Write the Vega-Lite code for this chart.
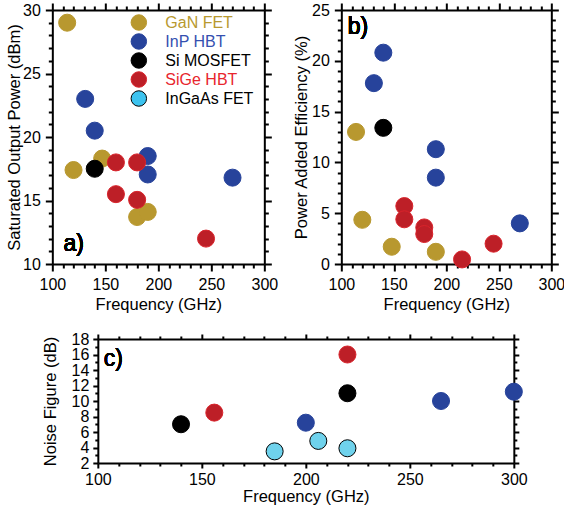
{
  "$schema": "https://vega.github.io/schema/vega-lite/v6.json",
  "padding": {"left": 6, "top": 2, "right": 0, "bottom": 0},
  "background": "white",
  "config": {
    "font": "Liberation Sans",
    "view": {"stroke": null},
    "axis": {
      "grid": false,
      "domainColor": "black",
      "domainWidth": 2,
      "tickColor": "black",
      "tickWidth": 2,
      "tickSize": 7,
      "labelFont": "Liberation Sans",
      "labelFontSize": 16,
      "labelColor": "black",
      "labelPadding": 5,
      "labelFlush": false,
      "labelOverlap": false,
      "labelBound": false,
      "titleFont": "Liberation Sans",
      "titleFontSize": 16.5,
      "titleFontWeight": "normal",
      "titleColor": "black"
    }
  },
  "datasets": {
    "psat": [
      {"tech": "GaN FET", "freq": 114, "value": 29.0},
      {"tech": "GaN FET", "freq": 120, "value": 17.4},
      {"tech": "GaN FET", "freq": 147, "value": 18.3},
      {"tech": "GaN FET", "freq": 180, "value": 13.7},
      {"tech": "GaN FET", "freq": 190, "value": 14.1},
      {"tech": "InP HBT", "freq": 131, "value": 23.0},
      {"tech": "InP HBT", "freq": 140, "value": 20.5},
      {"tech": "InP HBT", "freq": 190, "value": 18.5},
      {"tech": "InP HBT", "freq": 190, "value": 17.05},
      {"tech": "InP HBT", "freq": 270, "value": 16.8},
      {"tech": "Si MOSFET", "freq": 140, "value": 17.5},
      {"tech": "SiGe HBT", "freq": 160, "value": 18.0},
      {"tech": "SiGe HBT", "freq": 180, "value": 18.0},
      {"tech": "SiGe HBT", "freq": 160, "value": 15.5},
      {"tech": "SiGe HBT", "freq": 180, "value": 15.05},
      {"tech": "SiGe HBT", "freq": 245, "value": 12.0}
    ],
    "pae": [
      {"tech": "GaN FET", "freq": 114, "value": 13.0},
      {"tech": "GaN FET", "freq": 120, "value": 4.35},
      {"tech": "GaN FET", "freq": 148, "value": 1.7},
      {"tech": "GaN FET", "freq": 190, "value": 1.2},
      {"tech": "InP HBT", "freq": 140, "value": 20.8},
      {"tech": "InP HBT", "freq": 131, "value": 17.8},
      {"tech": "InP HBT", "freq": 190, "value": 11.3},
      {"tech": "InP HBT", "freq": 190, "value": 8.5},
      {"tech": "InP HBT", "freq": 270, "value": 4.0},
      {"tech": "Si MOSFET", "freq": 140, "value": 13.4},
      {"tech": "SiGe HBT", "freq": 160, "value": 5.7},
      {"tech": "SiGe HBT", "freq": 160, "value": 4.4},
      {"tech": "SiGe HBT", "freq": 179, "value": 3.6},
      {"tech": "SiGe HBT", "freq": 179, "value": 2.95},
      {"tech": "SiGe HBT", "freq": 215, "value": 0.45},
      {"tech": "SiGe HBT", "freq": 245, "value": 2.0}
    ],
    "nf": [
      {"tech": "InP HBT", "freq": 200, "value": 7.2},
      {"tech": "InP HBT", "freq": 265, "value": 10.0},
      {"tech": "InP HBT", "freq": 300, "value": 11.2},
      {"tech": "Si MOSFET", "freq": 140, "value": 7.0},
      {"tech": "Si MOSFET", "freq": 220, "value": 11.0},
      {"tech": "SiGe HBT", "freq": 156, "value": 8.5},
      {"tech": "SiGe HBT", "freq": 220, "value": 16.0},
      {"tech": "InGaAs FET", "freq": 185, "value": 3.5},
      {"tech": "InGaAs FET", "freq": 206, "value": 4.85},
      {"tech": "InGaAs FET", "freq": 220, "value": 3.9}
    ]
  },
  "vconcat": [
    {
      "hconcat": [
        {
          "width": 212,
          "height": 254,
          "data": {"name": "psat"},
          "layer": [
            {
              "mark": {"type": "point", "filled": true, "opacity": 1, "size": 290, "strokeWidth": 1},
              "encoding": {
                "x": {"field": "freq", "type": "quantitative", "scale": {"domain": [100, 300], "nice": false, "zero": false},
                      "axis": {"orient": "bottom", "values": [100, 150, 200, 250, 300], "title": "Frequency (GHz)"}},
                "y": {"field": "value", "type": "quantitative", "scale": {"domain": [10, 30], "nice": false, "zero": false},
                      "axis": {"orient": "left", "values": [10, 15, 20, 25, 30], "title": "Saturated Output Power (dBm)", "titlePadding": 0}},
                "color": {"field": "tech", "type": "nominal",
                          "scale": {"domain": ["GaN FET", "InP HBT", "Si MOSFET", "SiGe HBT", "InGaAs FET"], "range": ["#b8982f", "#27439b", "#000000", "#bd1f27", "#3cc3ef"]},
                          "legend": {"title": null, "orient": "none", "legendX": 78, "legendY": 4, "padding": 0,
                                     "symbolType": "circle", "symbolSize": 240, "symbolStrokeWidth": 1,
                                     "labelFont": "Liberation Sans", "labelFontSize": 16, "labelOffset": 18, "rowPadding": -6,
                                     "labelColor": {"expr": "datum.value == 'GaN FET' ? '#b8992f' : datum.value == 'InP HBT' ? '#3550b0' : datum.value == 'SiGe HBT' ? '#e8252d' : '#000000'"}}},
                "stroke": {"field": "tech", "type": "nominal",
                           "scale": {"domain": ["GaN FET", "InP HBT", "Si MOSFET", "SiGe HBT", "InGaAs FET"], "range": ["#b8982f", "#27439b", "#000000", "#d9232b", "#000000"]},
                           "legend": {"title": null}}
              }
            },
            {
              "mark": {"type": "point", "opacity": 0},
              "encoding": {
                "x": {"field": "freq", "type": "quantitative", "axis": {"orient": "bottom", "values": [110,120,130,140,160,170,180,190,210,220,230,240,260,270,280,290], "labels": false, "domain": false, "tickSize": 4, "title": null}},
                "y": {"field": "value", "type": "quantitative", "axis": {"orient": "left", "values": [11,12,13,14,16,17,18,19,21,22,23,24,26,27,28,29], "labels": false, "domain": false, "tickSize": 4, "title": null}}
              }
            },
            {
              "mark": {"type": "point", "opacity": 0},
              "encoding": {
                "x": {"field": "freq", "type": "quantitative", "axis": {"orient": "top", "values": [100, 150, 200, 250, 300], "labels": false, "title": null}},
                "y": {"field": "value", "type": "quantitative", "axis": {"orient": "right", "values": [10, 15, 20, 25, 30], "labels": false, "title": null}}
              }
            },
            {
              "mark": {"type": "point", "opacity": 0},
              "encoding": {
                "x": {"field": "freq", "type": "quantitative", "axis": {"orient": "top", "values": [110,120,130,140,160,170,180,190,210,220,230,240,260,270,280,290], "labels": false, "domain": false, "tickSize": 4, "title": null}},
                "y": {"field": "value", "type": "quantitative", "axis": {"orient": "right", "values": [11,12,13,14,16,17,18,19,21,22,23,24,26,27,28,29], "labels": false, "domain": false, "tickSize": 4, "title": null}}
              }
            },
            {
              "mark": {"type": "text", "text": "a)", "fontSize": 23, "align": "left", "baseline": "alphabetic", "font": "Liberation Sans"},
              "encoding": {"x": {"datum": 110.5, "axis": null}, "y": {"datum": 11.05, "axis": null}}
            }
          ],
          "resolve": {"axis": {"x": "independent", "y": "independent"}}
        },
        {
          "width": 210,
          "height": 254,
          "data": {"name": "pae"},
          "layer": [
            {
              "mark": {"type": "point", "filled": true, "opacity": 1, "size": 290, "strokeWidth": 1},
              "encoding": {
                "x": {"field": "freq", "type": "quantitative", "scale": {"domain": [100, 300], "nice": false, "zero": false},
                      "axis": {"orient": "bottom", "values": [100, 150, 200, 250, 300], "title": "Frequency (GHz)"}},
                "y": {"field": "value", "type": "quantitative", "scale": {"domain": [0, 25], "nice": false, "zero": false},
                      "axis": {"orient": "left", "values": [0, 5, 10, 15, 20, 25], "title": "Power Added Efficiency (%)", "titlePadding": 2}},
                "color": {"field": "tech", "type": "nominal",
                          "scale": {"domain": ["GaN FET", "InP HBT", "Si MOSFET", "SiGe HBT", "InGaAs FET"], "range": ["#b8982f", "#27439b", "#000000", "#bd1f27", "#3cc3ef"]},
                          "legend": null},
                "stroke": {"field": "tech", "type": "nominal",
                           "scale": {"domain": ["GaN FET", "InP HBT", "Si MOSFET", "SiGe HBT", "InGaAs FET"], "range": ["#b8982f", "#27439b", "#000000", "#d9232b", "#000000"]},
                           "legend": null}
              }
            },
            {
              "mark": {"type": "point", "opacity": 0},
              "encoding": {
                "x": {"field": "freq", "type": "quantitative", "axis": {"orient": "bottom", "values": [110,120,130,140,160,170,180,190,210,220,230,240,260,270,280,290], "labels": false, "domain": false, "tickSize": 4, "title": null}},
                "y": {"field": "value", "type": "quantitative", "axis": {"orient": "left", "values": [1,2,3,4,6,7,8,9,11,12,13,14,16,17,18,19,21,22,23,24], "labels": false, "domain": false, "tickSize": 4, "title": null}}
              }
            },
            {
              "mark": {"type": "point", "opacity": 0},
              "encoding": {
                "x": {"field": "freq", "type": "quantitative", "axis": {"orient": "top", "values": [100, 150, 200, 250, 300], "labels": false, "title": null}},
                "y": {"field": "value", "type": "quantitative", "axis": {"orient": "right", "values": [0, 5, 10, 15, 20, 25], "labels": false, "title": null}}
              }
            },
            {
              "mark": {"type": "point", "opacity": 0},
              "encoding": {
                "x": {"field": "freq", "type": "quantitative", "axis": {"orient": "top", "values": [110,120,130,140,160,170,180,190,210,220,230,240,260,270,280,290], "labels": false, "domain": false, "tickSize": 4, "title": null}},
                "y": {"field": "value", "type": "quantitative", "axis": {"orient": "right", "values": [1,2,3,4,6,7,8,9,11,12,13,14,16,17,18,19,21,22,23,24], "labels": false, "domain": false, "tickSize": 4, "title": null}}
              }
            },
            {
              "mark": {"type": "text", "text": "b)", "fontSize": 23, "align": "left", "baseline": "alphabetic", "font": "Liberation Sans"},
              "encoding": {"x": {"datum": 106, "axis": null}, "y": {"datum": 22.6, "axis": null}}
            }
          ],
          "resolve": {"axis": {"x": "independent", "y": "independent"}}
        }
      ],
      "spacing": 77,
      "bounds": "flush",
      "resolve": {"scale": {"color": "independent", "stroke": "independent"}, "legend": {"color": "independent", "stroke": "independent"}}
    },
    {
      "width": 424,
      "height": 124,
      "data": {"name": "nf"},
      "layer": [
        {
          "mark": {"type": "point", "filled": true, "opacity": 1, "size": 290, "strokeWidth": 1},
          "encoding": {
            "x": {"field": "freq", "type": "quantitative", "scale": {"domain": [100, 300], "range": [8, 424], "nice": false, "zero": false},
                  "axis": {"orient": "bottom", "values": [100, 150, 200, 250, 300], "title": "Frequency (GHz)", "tickSize": 5, "labelPadding": 3, "titlePadding": 1}},
            "y": {"field": "value", "type": "quantitative", "scale": {"domain": [2, 18], "nice": false, "zero": false},
                  "axis": {"orient": "left", "offset": -8, "values": [2, 4, 6, 8, 10, 12, 14, 16, 18], "title": "Noise Figure (dB)", "titlePadding": 13, "tickSize": 5, "labelPadding": 4}},
            "color": {"field": "tech", "type": "nominal",
                      "scale": {"domain": ["GaN FET", "InP HBT", "Si MOSFET", "SiGe HBT", "InGaAs FET"], "range": ["#b8982f", "#27439b", "#000000", "#bd1f27", "#6fd2ec"]},
                      "legend": null},
            "stroke": {"field": "tech", "type": "nominal",
                       "scale": {"domain": ["GaN FET", "InP HBT", "Si MOSFET", "SiGe HBT", "InGaAs FET"], "range": ["#b8982f", "#27439b", "#000000", "#d9232b", "#000000"]},
                       "legend": null}
          }
        },
        {
          "mark": {"type": "point", "opacity": 0},
          "encoding": {
            "x": {"field": "freq", "type": "quantitative", "axis": {"orient": "bottom", "values": [110,120,130,140,160,170,180,190,210,220,230,240,260,270,280,290], "labels": false, "domain": false, "tickSize": 3, "title": null}},
            "y": {"field": "value", "type": "quantitative", "axis": {"orient": "left", "offset": -8, "values": [3,5,7,9,11,13,15,17], "labels": false, "domain": false, "tickSize": 3, "title": null}}
          }
        },
        {
          "mark": {"type": "point", "opacity": 0},
          "encoding": {
            "x": {"field": "freq", "type": "quantitative", "axis": {"orient": "top", "values": [100, 150, 200, 250, 300], "labels": false, "title": null, "tickSize": 5}},
            "y": {"field": "value", "type": "quantitative", "axis": {"orient": "right", "values": [2, 4, 6, 8, 10, 12, 14, 16, 18], "labels": false, "title": null, "tickSize": 5}}
          }
        },
        {
          "mark": {"type": "point", "opacity": 0},
          "encoding": {
            "x": {"field": "freq", "type": "quantitative", "axis": {"orient": "top", "values": [110,120,130,140,160,170,180,190,210,220,230,240,260,270,280,290], "labels": false, "domain": false, "tickSize": 3, "title": null}},
            "y": {"field": "value", "type": "quantitative", "axis": {"orient": "right", "values": [3,5,7,9,11,13,15,17], "labels": false, "domain": false, "tickSize": 3, "title": null}}
          }
        },
        {
          "mark": {"type": "text", "text": "c)", "fontSize": 23, "align": "left", "baseline": "alphabetic", "font": "Liberation Sans"},
          "encoding": {"x": {"datum": 102.9, "axis": null}, "y": {"datum": 14.5, "axis": null}}
        }
      ],
      "resolve": {"axis": {"x": "independent", "y": "independent"}}
    }
  ],
  "spacing": 18,
  "bounds": "full",
  "center": true,
  "resolve": {"scale": {"color": "independent", "stroke": "independent"}, "legend": {"color": "independent", "stroke": "independent"}}
}
